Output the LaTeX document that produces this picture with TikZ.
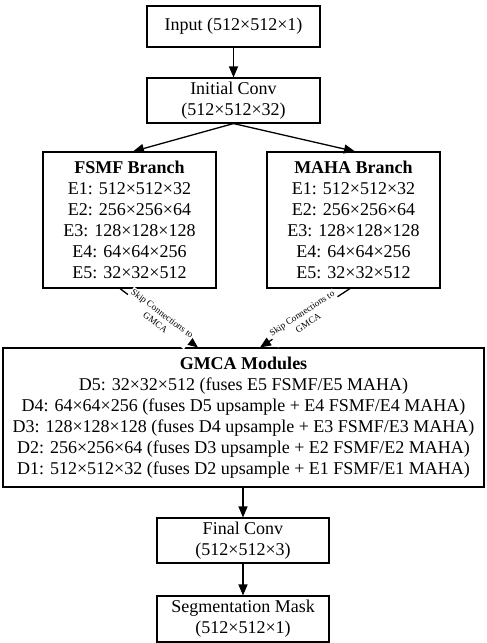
\documentclass[tikz,border=0pt]{standalone}
\usepackage{fontspec}
\setmainfont{Liberation Serif}
\usetikzlibrary{arrows.meta,calc}
\begin{document}
\begin{tikzpicture}[x=1pt,y=-1pt,
  box/.style={draw, line width=1.1pt, inner sep=0pt, align=center,
    font=\fontsize{18}{21}\selectfont},
  arr/.style={line width=1.3pt, -{Triangle[length=11pt,width=9pt]}},
  skiplbl/.style={fill=white, inner sep=1pt, align=center, sloped,
    font=\fontsize{9.3}{11.5}\selectfont}
]
\useasboundingbox (0,0) rectangle (487,643);
\fill[white] (0,0) rectangle (487,643);

\node[box, minimum width=173pt, minimum height=41pt] (input) at (233.5,26.5) {Input (512×512×1)};
\node[box, minimum width=173pt, minimum height=45pt] (init) at (233.5,100.5) {Initial Conv\\(512×512×32)};
\node[box, minimum width=173pt, minimum height=136pt] (fsmf) at (129.5,220) {\textbf{FSMF Branch}\\E1: 512×512×32\\E2: 256×256×64\\E3: 128×128×128\\E4: 64×64×256\\E5: 32×32×512};
\node[box, minimum width=173pt, minimum height=136pt] (maha) at (353.5,220) {\textbf{MAHA Branch}\\E1: 512×512×32\\E2: 256×256×64\\E3: 128×128×128\\E4: 64×64×256\\E5: 32×32×512};
\node[box, minimum width=481pt, minimum height=139pt] (gmca) at (243.5,417.5) {\textbf{GMCA Modules}\\D5: 32×32×512 (fuses E5 FSMF/E5 MAHA)\\D4: 64×64×256 (fuses D5 upsample + E4 FSMF/E4 MAHA)\\D3: 128×128×128 (fuses D4 upsample + E3 FSMF/E3 MAHA)\\D2: 256×256×64 (fuses D3 upsample + E2 FSMF/E2 MAHA)\\D1: 512×512×32 (fuses D2 upsample + E1 FSMF/E1 MAHA)};
\node[box, minimum width=172pt, minimum height=45pt] (final) at (243,540.5) {Final Conv\\(512×512×3)};
\node[box, minimum width=172pt, minimum height=46pt] (seg) at (243,619) {Segmentation Mask\\(512×512×1)};

\draw[arr] (input) -- (init);
\draw[arr] (init.south) -- ($(fsmf.north)+(3.5,0)$);
\draw[arr] (init.south) -- ($(maha.north)+(1.5,0)$);
\draw[arr] (gmca.south -| final.north) -- (final);
\draw[arr] (final) -- (seg);

\draw[arr] ($(fsmf.south)+(-9.5,0)$) -- node[skiplbl]{Skip Connections to\\GMCA} ($(gmca.north)+(-45.5,0)$);
\draw[arr] ($(maha.south)+(-3.5,0)$) -- node[skiplbl]{Skip Connections to\\GMCA} ($(gmca.north)+(16.5,0)$);
\end{tikzpicture}
\end{document}
